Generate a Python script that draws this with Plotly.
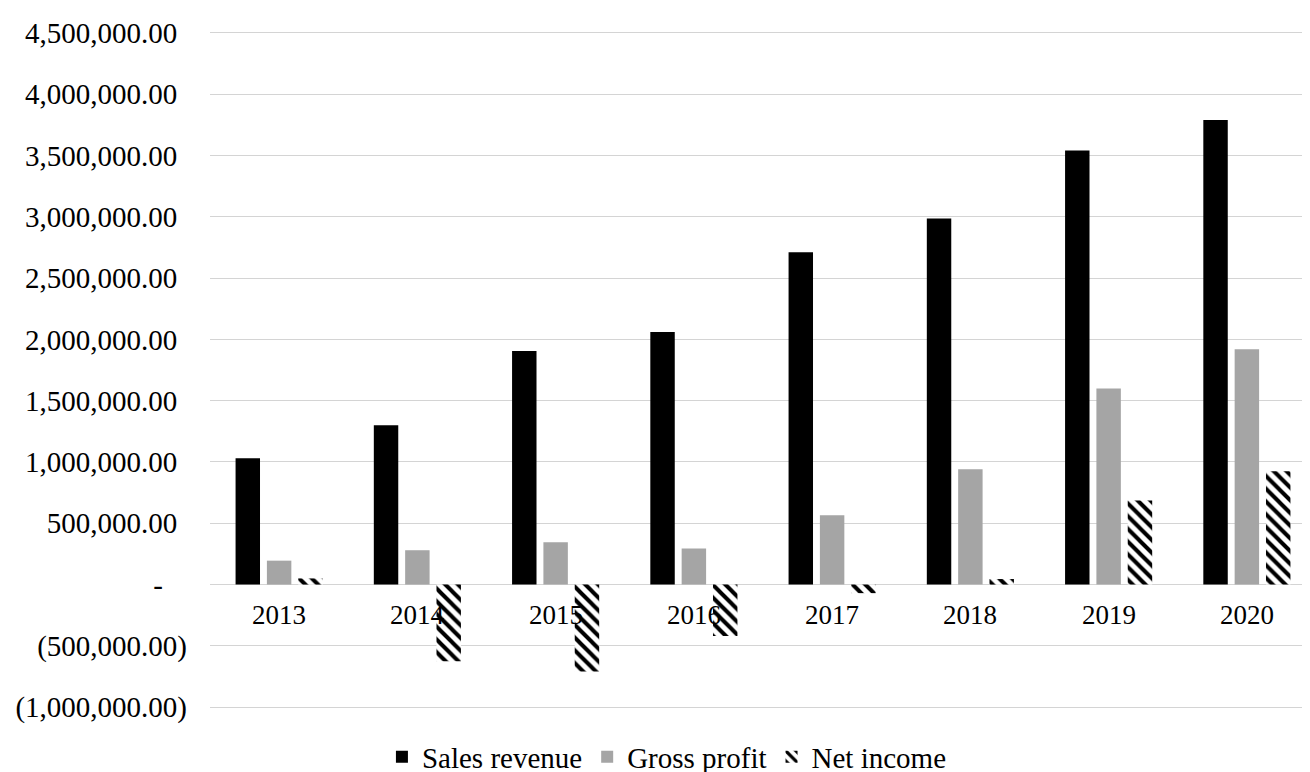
import plotly.graph_objects as go

years = ["2013", "2014", "2015", "2016", "2017", "2018", "2019", "2020"]
sales_revenue = [1030000, 1300000, 1905000, 2060000, 2710000, 2985000, 3540000, 3790000]
gross_profit = [195000, 280000, 345000, 295000, 565000, 940000, 1600000, 1920000]
net_income = [50000, -625000, -710000, -420000, -70000, 45000, 685000, 925000]

tick_vals = [-1000000, -500000, 0, 500000, 1000000, 1500000, 2000000, 2500000,
             3000000, 3500000, 4000000, 4500000]
tick_labels = ["(1,000,000.00)", "(500,000.00)", "-", "500,000.00", "1,000,000.00",
               "1,500,000.00", "2,000,000.00", "2,500,000.00", "3,000,000.00",
               "3,500,000.00", "4,000,000.00", "4,500,000.00"]

FONT = "Liberation Serif"
FS = 29


def pad_label(s):
    # accounting-style alignment: invisible padding where the ")" would be
    hidden = "<span style='color:rgba(0,0,0,0)'>%s</span>"
    if s.endswith(")"):
        return s
    if s == "-":
        return s + hidden % "0)"
    return s + hidden % ")"


tick_text = [pad_label(s) for s in tick_labels]

fig = go.Figure()
fig.add_trace(go.Bar(name="Sales revenue", x=years, y=sales_revenue,
                     marker=dict(color="#000000", line=dict(width=0))))
fig.add_trace(go.Bar(name="Gross profit", x=years, y=gross_profit,
                     marker=dict(color="#a5a5a5", line=dict(width=0))))
fig.add_trace(go.Bar(name="Net income", x=years, y=net_income,
                     marker=dict(color="#ffffff", line=dict(width=0),
                                 pattern=dict(shape="\\", fgcolor="#000000",
                                              bgcolor="#ffffff", size=9,
                                              solidity=0.45, fillmode="replace"))))

annos = []
for i, yr in enumerate(years):
    annos.append(dict(text=yr, x=i, y=0, xref="x", yref="y", yanchor="top",
                      yshift=-13, showarrow=False,
                      font=dict(family=FONT, size=27, color="#000000")))

fig.update_layout(
    width=1310, height=772,
    margin=dict(l=202, r=2, t=23, b=71, autoexpand=False),
    paper_bgcolor="#ffffff", plot_bgcolor="rgba(0,0,0,0)",
    barmode="group", bargap=0.32, bargroupgap=0.22,
    font=dict(family=FONT, size=FS, color="#000000"),
    showlegend=True,
    legend=dict(orientation="h", xref="container", x=0.503, xanchor="center",
                yref="container", y=0.03, yanchor="middle",
                font=dict(family=FONT, size=FS, color="#000000"),
                itemwidth=30, tracegroupgap=0, bgcolor="rgba(0,0,0,0)"),
    annotations=annos,
)
fig.update_xaxes(type="category", range=[-0.5, 7.5], showticklabels=False,
                 showgrid=False, zeroline=False, showline=False, ticks="",
                 automargin=False)
fig.update_yaxes(range=[-1015000, 4515000], tickvals=tick_vals, ticktext=tick_text,
                 showgrid=True, gridcolor="#d4d4d4", gridwidth=1,
                 zeroline=True, zerolinecolor="#d4d4d4", zerolinewidth=1,
                 showline=False, ticks="", ticklabelstandoff=22, automargin=False,
                 tickfont=dict(family=FONT, size=FS, color="#000000"))

fig.write_html("out.html")
